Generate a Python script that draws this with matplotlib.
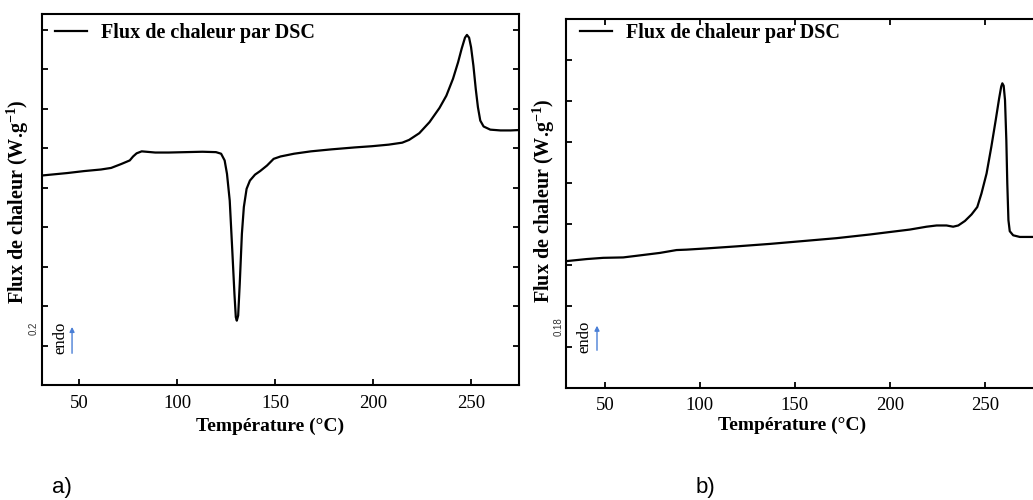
import matplotlib
matplotlib.use("Agg")
import matplotlib.pyplot as plt

plt.rcParams['font.family'] = ['Liberation Serif', 'DejaVu Serif']
plt.rcParams['mathtext.fontset'] = 'custom'
plt.rcParams['mathtext.rm'] = 'Liberation Serif'
plt.rcParams['mathtext.bf'] = 'Liberation Serif:bold'

## donnees (a) ##
temp_a = [31.5, 44.0, 52.6, 61.2, 66.4, 71.6, 75.9, 77.6, 79.4, 82.0, 88.9, 95.8,
          104.4, 113.0, 119.9, 122.5, 124.3, 125.5, 126.9, 128.2, 129.3, 130.0,
          130.5, 131.2, 132.0, 133.1, 134.1, 135.5, 137.2, 139.8, 142.4, 145.9,
          149.3, 152.8, 159.7, 168.3, 178.7, 190.8, 199.4, 208.0, 214.9, 218.4,
          223.6, 228.8, 233.9, 237.4, 240.8, 243.4, 245.2, 246.9, 247.9, 249.0,
          250.0, 251.2, 252.4, 253.5, 254.7, 256.4, 259.8, 265.0, 270.2, 274.5]
flux_a = [0.2431, 0.2437, 0.2442, 0.2446, 0.2450, 0.2460, 0.2469, 0.2479, 0.2487,
          0.2492, 0.2489, 0.2489, 0.2490, 0.2491, 0.2490, 0.2486, 0.2469, 0.2435,
          0.2367, 0.2241, 0.2131, 0.2072, 0.2063, 0.2076, 0.2156, 0.2283, 0.2351,
          0.2397, 0.2418, 0.2433, 0.2442, 0.2456, 0.2473, 0.2479, 0.2486, 0.2492,
          0.2497, 0.2502, 0.2505, 0.2509, 0.2514, 0.2521, 0.2538, 0.2566, 0.2602,
          0.2633, 0.2676, 0.2718, 0.2752, 0.2780, 0.2787, 0.2780, 0.2756, 0.2709,
          0.2650, 0.2604, 0.2570, 0.2555, 0.2547, 0.2545, 0.2545, 0.2546]

## donnees (b) ##
temp_b = [29.8, 40.4, 49.1, 59.6, 66.7, 78.9, 87.7, 93.0, 103.5, 119.3, 136.8,
          154.4, 171.9, 189.5, 198.2, 210.5, 219.3, 224.6, 229.8, 233.3, 236.0,
          239.5, 243.0, 246.0, 248.2, 250.9, 253.4, 255.7, 257.5, 258.6, 259.2,
          259.9, 260.6, 261.3, 261.8, 262.4, 263.1, 264.9, 268.4, 275.3]
flux_b = [0.2009, 0.2014, 0.2017, 0.2018, 0.2022, 0.2029, 0.2036, 0.2037, 0.2040,
          0.2045, 0.2051, 0.2058, 0.2065, 0.2074, 0.2079, 0.2086, 0.2093, 0.2096,
          0.2096, 0.2093, 0.2096, 0.2107, 0.2123, 0.2141, 0.2174, 0.2223, 0.2288,
          0.2353, 0.2406, 0.2435, 0.2443, 0.2437, 0.2402, 0.2304, 0.2199, 0.2109,
          0.2082, 0.2072, 0.2068, 0.2068]

xticks = [50, 100, 150, 200, 250]
yticks_a = [0.20, 0.21, 0.22, 0.23, 0.24, 0.25, 0.26, 0.27, 0.28]
yticks_b = [0.18, 0.19, 0.20, 0.21, 0.22, 0.23, 0.24, 0.25, 0.26]
label_legende = "Flux de chaleur par DSC"
label_x = "Température (°C)"
label_y = r"Flux de chaleur (W.g$^{\mathbf{-1}}$)"

fig = plt.figure(figsize=(10.33, 5.0), dpi=100)
ax_a = fig.add_axes([0.0404, 0.23, 0.4621, 0.742])
ax_b = fig.add_axes([0.5479, 0.2246, 0.457, 0.7374])

def mise_en_forme(ax, yticks, top, right):
    for s in ax.spines.values():
        s.set_linewidth(1.5)
    ax.set_xticks(xticks)
    ax.set_yticks(yticks)
    ax.set_yticklabels([])
    ax.tick_params(direction='in', length=4.5, width=1.3, labelsize=13.5, pad=7,
                   top=top, right=right, left=True, bottom=True)

## (a) ##
ax_a.plot(temp_a, flux_a, color='black', lw=1.6, label=label_legende)
ax_a.set_xlim(31, 274.5)
ax_a.set_ylim(0.19, 0.284)
mise_en_forme(ax_a, yticks_a, top=False, right=True)
ax_a.legend(loc='upper left', bbox_to_anchor=(0.028, 0.976), frameon=False,
            borderpad=0, borderaxespad=0, handlelength=1.6, handletextpad=0.7,
            prop={'weight': 'bold', 'size': 14.5})
ax_a.set_xlabel(label_x, fontsize=14, fontweight='bold')
ax_a.xaxis.set_label_coords(0.478, -0.089)
ax_a.set_ylabel(label_y, fontsize=14.5, fontweight='bold')
ax_a.yaxis.set_label_coords(-0.022, 0.495)
ax_a.text(-0.018, 0.154, "0.2", transform=ax_a.transAxes, rotation=90,
          ha='center', va='center', fontsize=7, color='#333333',
          family=['Liberation Sans', 'DejaVu Sans'])
ax_a.text(0.040, 0.127, "endo", transform=ax_a.transAxes, rotation=90,
          ha='center', va='center', fontsize=12)
ax_a.annotate("", xy=(0.0635, 0.164), xytext=(0.0635, 0.078),
              xycoords='axes fraction',
              arrowprops=dict(arrowstyle='-|>', color='#4a7fd6', lw=1,
                              mutation_scale=7))

## (b) ##
ax_b.plot(temp_b, flux_b, color='black', lw=1.6, label=label_legende)
ax_b.set_xlim(29.5, 278)
ax_b.set_ylim(0.17, 0.26)
mise_en_forme(ax_b, yticks_b, top=True, right=False)
ax_b.legend(loc='upper left', bbox_to_anchor=(0.03, 0.989), frameon=False,
            borderpad=0, borderaxespad=0, handlelength=1.6, handletextpad=0.7,
            prop={'weight': 'bold', 'size': 14.5})
ax_b.set_xlabel(label_x, fontsize=14, fontweight='bold')
ax_b.xaxis.set_label_coords(0.479, -0.079)
ax_b.set_ylabel(label_y, fontsize=14.5, fontweight='bold')
ax_b.yaxis.set_label_coords(-0.019, 0.506)
ax_b.text(-0.015, 0.165, "0.18", transform=ax_b.transAxes, rotation=90,
          ha='center', va='center', fontsize=7, color='#333333',
          family=['Liberation Sans', 'DejaVu Sans'])
ax_b.text(0.040, 0.1375, "endo", transform=ax_b.transAxes, rotation=90,
          ha='center', va='center', fontsize=12)
ax_b.annotate("", xy=(0.0657, 0.1757), xytext=(0.0657, 0.094),
              xycoords='axes fraction',
              arrowprops=dict(arrowstyle='-|>', color='#4a7fd6', lw=1,
                              mutation_scale=7))

## sous-figures ##
fig.text(62 / 1033, 1 - 488 / 500, "a)", ha='center', va='center', fontsize=16,
         family=['Liberation Sans', 'DejaVu Sans'])
fig.text(705 / 1033, 1 - 488 / 500, "b)", ha='center', va='center', fontsize=16,
         family=['Liberation Sans', 'DejaVu Sans'])

fig.savefig("out.png", dpi=100)
